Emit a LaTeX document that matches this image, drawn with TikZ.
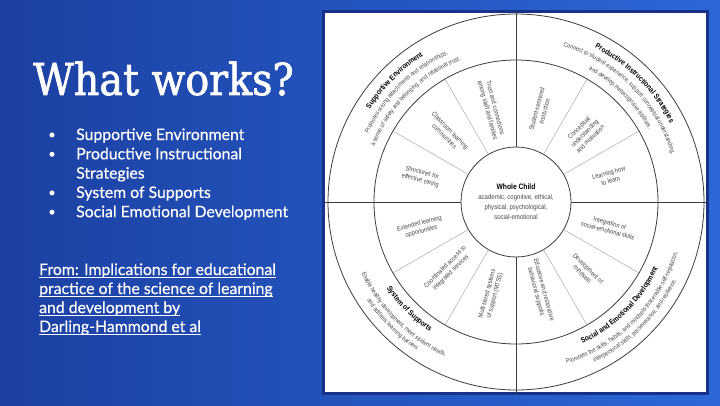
\documentclass[tikz,border=0pt]{standalone}
\usepackage{fontspec}
\setmainfont[FakeBold=0.5]{Lato}
\newfontfamily\titlefont[FakeStretch=0.9,FakeBold=1.6]{DejaVu Serif}
\newfontfamily\wheelfont[FakeStretch=0.86]{Liberation Sans}
\usetikzlibrary{decorations.text}
\definecolor{bgL}{RGB}{28,64,162}
\definecolor{bgR}{RGB}{44,104,216}
\definecolor{framec}{RGB}{24,50,140}
\definecolor{wline}{RGB}{60,60,60}
\definecolor{wspoke}{RGB}{170,170,170}
\definecolor{wtext}{RGB}{70,70,70}
\newcommand\wheelT{\wheelfont\bfseries\fontsize{7.6}{9}\selectfont}
\newcommand\wheelD{\wheelfont\fontsize{6.3}{8}\selectfont}
\newcommand\wheelarc[6]{\path[decorate,decoration={text along path,text align=center,text color=#5,text={|#4|#6}}] (#2:#1pt) arc[start angle=#2,end angle=#3,radius=#1pt];}
\begin{document}
\begin{tikzpicture}[x=1pt,y=1pt,
  ring/.style={circle,draw=wline,line width=0.8pt,inner sep=0pt,outer sep=0pt},
  axisline/.style={draw=wline,line width=0.8pt},
  spoke/.style={draw=wspoke,line width=0.5pt},
  sect/.style={font=\wheelfont\fontsize{6.6}{8}\selectfont,text=wtext,align=center,inner sep=0pt},
  bul/.style={font=\fontsize{15.8}{18}\selectfont,text=white,anchor=base west,inner sep=0pt},
  linkt/.style={font=\fontsize{15.8}{18}\selectfont,text=white,anchor=base west,inner sep=0pt},
  uline/.style={draw=white,line width=0.9pt}]
\useasboundingbox (0,0) rectangle (720,405);
\shade[left color=bgL,right color=bgR] (0,0) rectangle (720,405);
% white panel
\node[draw=framec,line width=3pt,fill=white,minimum width=384pt,minimum height=382pt,inner sep=0pt,outer sep=0pt,anchor=south west] (box) at (323.5,11.5) {};
\coordinate (C) at (516,203);
\node[ring,minimum size=376pt] (outer) at (C) {};
\node[ring,minimum size=284pt] (mid) at (C) {};
\node[ring,minimum size=110pt] (inner) at (C) {};
\draw[axisline] (inner.east) -- (box.east |- C);
\draw[axisline] (inner.west) -- (box.west |- C);
\draw[axisline] (inner.north) -- (box.north -| C);
\draw[axisline] (inner.south) -- (box.south -| C);
\foreach \a in {30,60,120,150,210,240,300,330} \draw[spoke] (inner.\a) -- (mid.\a);
\node[align=center,inner sep=0pt,text=wtext,font=\wheelfont\fontsize{7}{10}\selectfont] (whole) at (C) {\textcolor{black}{\bfseries\fontsize{7.8}{10}\selectfont Whole Child}\\academic, cognitive, ethical,\\physical, psychological,\\social-emotional};
\begin{scope}[shift={(516,203)}]
  % sector texts
  \node[sect,rotate=-75] (s105) at (105:96pt) {Trust and connections\\among staff and families};
  \node[sect,rotate=-45] (s135) at (135:97pt) {Classroom learning\\communities};
  \node[sect,rotate=-15] (s165) at (165:98pt) {Structures for\\effective caring};
  \node[sect,rotate=75] (s75) at (75:95pt) {Student-centered\\instruction};
  \node[sect,rotate=45] (s45) at (45:97pt) {Conceptual\\understanding\\and motivation};
  \node[sect,rotate=15] (s15) at (15:97pt) {Learning how\\to learn};
  \node[sect,rotate=-15] (s345) at (-15:96pt) {Integration of\\social-emotional skills};
  \node[sect,rotate=-45] (s315) at (-45:98pt) {Development of\\mindsets};
  \node[sect,rotate=-75] (s285) at (-75:92pt) {Educative and restorative\\behavioral supports};
  \node[sect,rotate=15] (s195) at (195:99pt) {Extended learning\\opportunities};
  \node[sect,rotate=45] (s225) at (225:96pt) {Coordinated access to\\integrated services};
  \node[sect,rotate=75] (s255) at (255:96pt) {Multi-tiered systems\\of support (MTSS)};
  % outer ring texts
  \wheelarc{173}{180}{90}{\wheelT}{black}{Supportive Environment}
  \wheelarc{162.5}{180}{90}{\wheelD}{wtext}{Promotes strong attachments and relationships,}
  \wheelarc{152}{180}{90}{\wheelD}{wtext}{a sense of safety and belonging, and relational trust.}
  \wheelarc{173}{90}{0}{\wheelT}{black}{Productive Instructional Strategies}
  \wheelarc{162.5}{95}{-5}{\wheelD}{wtext}{Connect to student experience, support conceptual understanding,}
  \wheelarc{151}{90}{0}{\wheelD}{wtext}{and develop metacognitive abilities.}
  \wheelarc{155.5}{180}{270}{\wheelT}{black}{System of Supports}
  \wheelarc{170}{180}{270}{\wheelD}{wtext}{Enable healthy development, meet student needs,}
  \wheelarc{178.5}{180}{270}{\wheelD}{wtext}{and address learning barriers.}
  \wheelarc{156.5}{270}{360}{\wheelT}{black}{Social and Emotional Development}
  \wheelarc{169.5}{265}{365}{\wheelD}{wtext}{Promotes the skills, habits, and mindsets that enable self-regulation,}
  \wheelarc{178.5}{270}{360}{\wheelD}{wtext}{interpersonal skills, perseverance, and resilience.}
\end{scope}
% left side
\node[font=\titlefont\fontsize{44}{50}\selectfont,text=white,anchor=base west,inner sep=0pt] (title) at (33,310) {What works?};
\node[bul] (b1) at (76,265) {Supportive Environment};
\node[bul] (b2) at (76,245.7) {Productive Instructional};
\node[bul] (b2b) at (76,226.4) {Strategies};
\node[bul] (b3) at (76,207.1) {System of Supports};
\node[bul] (b4) at (76,187.8) {Social Emotional Development};
\foreach \n in {b1,b2,b3,b4} \fill[white] ([xshift=-24pt,yshift=5pt]\n.base west) circle (2.5pt);
\node[linkt] (l1) at (39,130) {From: Implications for educational};
\node[linkt] (l2) at (39,111) {practice of the science of learning};
\node[linkt] (l3) at (39,92) {and development by};
\node[linkt] (l4) at (39,73) {Darling-Hammond et al};
\foreach \n in {l1,l2,l3,l4} \draw[uline] ([yshift=-2.8pt]\n.base west) -- ([yshift=-2.8pt]\n.base east);
\end{tikzpicture}
\end{document}
